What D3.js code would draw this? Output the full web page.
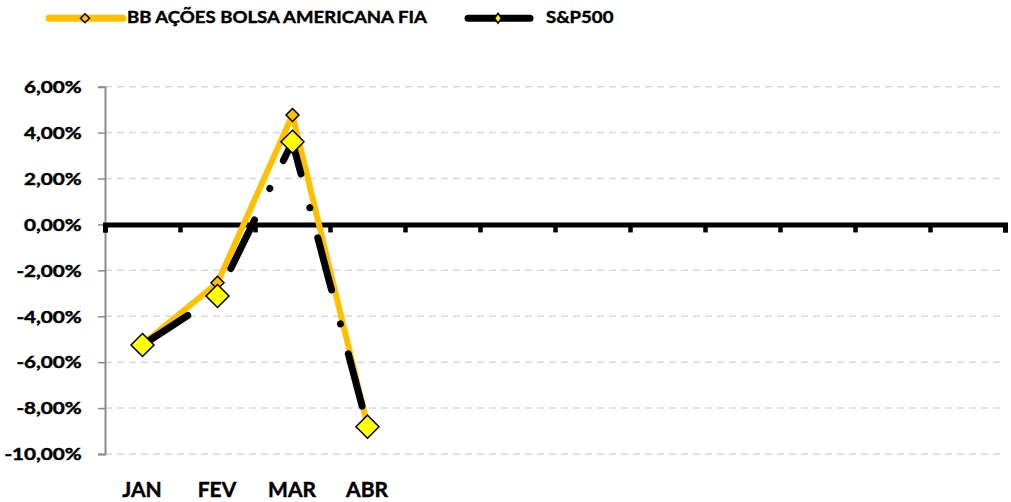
<!DOCTYPE html>
<html>
<head>
<meta charset="utf-8">
<script src="https://cdn.jsdelivr.net/npm/d3@7"></script>
<style>
  html, body { margin: 0; padding: 0; background: #fff; }
  svg { display: block; }
  text { font-family: Lato, "Open Sans", sans-serif; font-weight: 700; fill: #000; stroke: #000; stroke-width: 0.45px; }
</style>
</head>
<body>
<svg id="chart" width="1011" height="502"></svg>
<script>
// Monthly returns, 2022 (fractions)
const months = ["JAN", "FEV", "MAR", "ABR", "", "", "", "", "", "", "", ""];
const fundName = "BB AÇÕES BOLSA AMERICANA FIA";
const indexName = "S&P500";
const fundReturns = [-0.0522, -0.0254, 0.0477, -0.0875];
const indexReturns = [-0.0525, -0.0312, 0.0360, -0.0881];
const yDomain = [-0.10, 0.06];

const W = 1011, H = 502;
const margin = { left: 105, right: 6, top: 86.7, bottom: 48 };

const svg = d3.select("#chart");

const locale = d3.formatLocale({ decimal: ",", thousands: ".", grouping: [3], currency: ["R$", ""], minus: "-" });
const pct = locale.format(".2%");

const x = d3.scaleBand().domain(d3.range(months.length)).range([margin.left, W - margin.right]);
const xEdge = d3.scaleLinear().domain([0, months.length]).range([margin.left, W - margin.right]);
const y = d3.scaleLinear().domain(yDomain).range([H - margin.bottom, margin.top]);
const xc = i => x(i) + x.bandwidth() / 2;

// horizontal stretch applied to the bold labels
const stretchTick = 1.2, stretchCat = 1.0, stretchLegend = 1.05;

// dashed horizontal gridlines
const yTicks = y.ticks(8);
svg.append("g")
  .selectAll("line")
  .data(yTicks)
  .join("line")
  .attr("x1", margin.left).attr("x2", W - margin.right)
  .attr("y1", d => y(d)).attr("y2", d => y(d))
  .attr("stroke", "#d9d9d9").attr("stroke-width", 1.5)
  .attr("stroke-dasharray", "7,5");

// value axis
const yAxis = svg.append("g")
  .attr("transform", `translate(${margin.left},0)`)
  .call(d3.axisLeft(y).tickValues(yTicks).tickSize(7).tickFormat(""));
yAxis.select(".domain").attr("stroke", "#8c8c8c").attr("stroke-width", 2);
yAxis.selectAll(".tick line").attr("stroke", "#8c8c8c").attr("stroke-width", 1.5);

svg.append("g")
  .selectAll("text")
  .data(yTicks)
  .join("text")
  .attr("text-anchor", "end")
  .attr("font-size", 17.2)
  .attr("transform", d => `translate(81.7,${y(d) + 6.3}) scale(${stretchTick},1)`)
  .text(d => pct(d));

// category axis crossing at zero
const xAxis = svg.append("g")
  .attr("transform", `translate(0,${y(0)})`)
  .call(d3.axisBottom(xEdge).ticks(months.length).tickSize(8).tickFormat(""));
xAxis.select(".domain").attr("stroke", "#000").attr("stroke-width", 5);
xAxis.selectAll(".tick line").attr("stroke", "#000").attr("stroke-width", 4.5);

// category labels along the bottom
svg.append("g")
  .selectAll("text")
  .data(months)
  .join("text")
  .attr("text-anchor", "middle")
  .attr("font-size", 21)
  .attr("transform", (d, i) => `translate(${xc(i) - 0.5},496.7) scale(${stretchCat},1)`)
  .text(d => d);

const line = d3.line().x((d, i) => xc(i)).y(d => y(d));
const diamond = (cx, cy, rx, ry) => `M${cx},${cy - ry}L${cx + rx},${cy}L${cx},${cy + ry}L${cx - rx},${cy}Z`;

// fund series
svg.append("path")
  .datum(fundReturns)
  .attr("d", line)
  .attr("fill", "none")
  .attr("stroke", "#ffc000")
  .attr("stroke-width", 6)
  .attr("stroke-linejoin", "round");
svg.append("g")
  .selectAll("path")
  .data(fundReturns)
  .join("path")
  .attr("d", (d, i) => diamond(xc(i), y(d), 6.5, 6.5))
  .attr("fill", "#ffc000").attr("stroke", "#000").attr("stroke-width", 1.5);

// index series, long dash-dot
svg.append("path")
  .datum(indexReturns)
  .attr("d", line)
  .attr("fill", "none")
  .attr("stroke", "#000")
  .attr("stroke-width", 7)
  .attr("stroke-linecap", "round")
  .attr("stroke-linejoin", "round")
  .attr("stroke-dasharray", "54,35,0.1,31");
svg.append("g")
  .selectAll("path")
  .data(indexReturns)
  .join("path")
  .attr("d", (d, i) => diamond(xc(i), y(d), 11.5, 11.5))
  .attr("fill", "#ffff00").attr("stroke", "#000").attr("stroke-width", 1.5);

// legend
const legend = svg.append("g");
const legendY = 18.3;
const entries = [
  { name: fundName, x0: 49, x1: 123, color: "#ffc000", mfill: "#ffc000", mrx: 4.5, mry: 4.5, tx: 127 },
  { name: indexName, x0: 468, x1: 530, color: "#000", mfill: "#ffff00", mrx: 3.5, mry: 5, tx: 546 }
];
entries.forEach(e => {
  legend.append("line")
    .attr("x1", e.x0).attr("x2", e.x1).attr("y1", legendY).attr("y2", legendY)
    .attr("stroke", e.color).attr("stroke-width", 7).attr("stroke-linecap", "round");
  legend.append("path")
    .attr("d", diamond((e.x0 + e.x1) / 2 - 1, legendY, e.mrx, e.mry))
    .attr("fill", e.mfill).attr("stroke", "#000").attr("stroke-width", 1.5);
  legend.append("text")
    .attr("font-size", 17.7)
    .attr("transform", `translate(${e.tx},23.3) scale(${stretchLegend},1)`)
    .text(e.name);
});
</script>
</body>
</html>
